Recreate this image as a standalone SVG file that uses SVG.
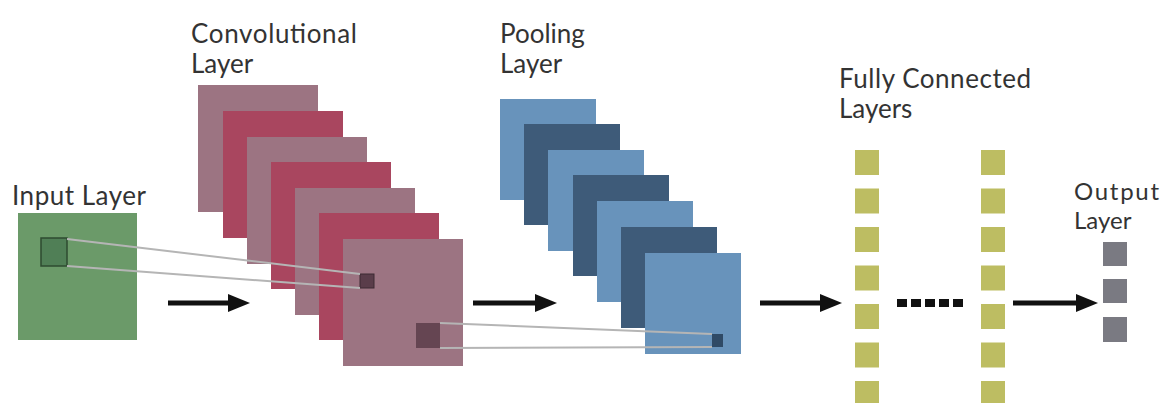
<svg xmlns="http://www.w3.org/2000/svg" width="1169" height="403" viewBox="0 0 1169 403">
<defs>
<marker id="ah" markerUnits="userSpaceOnUse" markerWidth="22" markerHeight="18" refX="0" refY="9" orient="auto" overflow="visible">
<path d="M0,0 L22,9 L0,18 z" fill="#111"/>
</marker>
</defs>
<style>
.lbl{font-family:"Gill Sans","Lato","Liberation Sans",sans-serif;font-size:26px;fill:#333333}
.sm{font-size:24px}
.mauve{fill:#9c7482}
.crim{fill:#a9465f}
.lb{fill:#6893bb}
.db{fill:#3e5b79}
.fc{fill:#bdbd62}
.out{fill:#7a7a82}
.arr{stroke:#111;stroke-width:5;fill:none;marker-end:url(#ah)}
.proj{stroke:#b5b5b5;stroke-width:2;fill:none}
</style>
<rect width="1169" height="403" fill="#ffffff"/>

<g id="input-layer">
<text class="lbl" x="12" y="205" textLength="134" lengthAdjust="spacing">Input Layer</text>
<rect x="18" y="213" width="119" height="127" fill="#6b9a69"/>
<rect x="41" y="238" width="26" height="28" fill="#507f56" stroke="#2e4b31" stroke-width="1.5"/>
</g>

<g id="conv-layer">
<text class="lbl" x="191" y="43" textLength="166" lengthAdjust="spacing">Convolutional</text>
<text class="lbl" x="191" y="73">Layer</text>
<rect class="mauve" x="198" y="85" width="120" height="127"/>
<rect class="crim" x="223" y="111" width="120" height="127"/>
<rect class="mauve" x="247" y="137" width="120" height="127"/>
<rect class="crim" x="271" y="162" width="120" height="127"/>
<rect class="mauve" x="295" y="188" width="120" height="127"/>
<rect class="crim" x="319" y="213" width="120" height="127"/>
<rect class="mauve" x="343" y="239" width="120" height="127"/>
<rect x="360" y="274" width="14" height="14" fill="#5a3d4a" stroke="#3d2a33" stroke-width="1"/>
<rect x="416" y="323" width="24" height="25" fill="#654552"/>
</g>

<g id="pooling-layer">
<text class="lbl" x="500" y="43">Pooling</text>
<text class="lbl" x="500" y="73">Layer</text>
<rect class="lb" x="500" y="99" width="96" height="101"/>
<rect class="db" x="524" y="124" width="96" height="101"/>
<rect class="lb" x="548" y="150" width="96" height="101"/>
<rect class="db" x="573" y="175" width="96" height="101"/>
<rect class="lb" x="597" y="201" width="96" height="101"/>
<rect class="db" x="621" y="227" width="96" height="101"/>
<rect class="lb" x="645" y="253" width="96" height="101"/>
<rect x="712" y="334" width="11" height="13" fill="#2f4a66"/>
</g>

<g id="fc-layers">
<text class="lbl" x="839" y="88" textLength="192" lengthAdjust="spacing">Fully Connected</text>
<text class="lbl" x="839" y="118">Layers</text>
<g id="fc-col-1">
<rect class="fc" x="855" y="150" width="24" height="25"/>
<rect class="fc" x="855" y="188.5" width="24" height="25"/>
<rect class="fc" x="855" y="227" width="24" height="25"/>
<rect class="fc" x="855" y="265.5" width="24" height="25"/>
<rect class="fc" x="855" y="304" width="24" height="25"/>
<rect class="fc" x="855" y="342.5" width="24" height="25"/>
<rect class="fc" x="855" y="381" width="24" height="25"/>
</g>
<g id="fc-col-2">
<rect class="fc" x="981" y="150" width="24" height="25"/>
<rect class="fc" x="981" y="188.5" width="24" height="25"/>
<rect class="fc" x="981" y="227" width="24" height="25"/>
<rect class="fc" x="981" y="265.5" width="24" height="25"/>
<rect class="fc" x="981" y="304" width="24" height="25"/>
<rect class="fc" x="981" y="342.5" width="24" height="25"/>
<rect class="fc" x="981" y="381" width="24" height="25"/>
</g>
</g>

<g id="output-layer">
<text class="lbl sm" x="1074" y="200" textLength="85" lengthAdjust="spacing">Output</text>
<text class="lbl sm" x="1074" y="229">Layer</text>
<rect class="out" x="1103" y="242" width="24" height="24"/>
<rect class="out" x="1103" y="279" width="24" height="24"/>
<rect class="out" x="1103" y="317" width="24" height="25"/>
</g>

<g id="connectors">
<line class="proj" x1="67" y1="239" x2="360" y2="274"/>
<line class="proj" x1="67" y1="266" x2="360" y2="288"/>
<line class="proj" x1="440" y1="323" x2="712" y2="334"/>
<line class="proj" x1="440" y1="348" x2="712" y2="347"/>
<line class="arr" x1="168" y1="303" x2="228" y2="303"/>
<line class="arr" x1="473" y1="303" x2="535" y2="303"/>
<line class="arr" x1="760" y1="303" x2="820" y2="303"/>
<line class="arr" x1="1013" y1="303" x2="1076" y2="303"/>
<g id="ellipsis" fill="#111">
<rect x="897" y="299" width="10" height="8"/>
<rect x="911" y="299" width="10" height="8"/>
<rect x="925" y="299" width="10" height="8"/>
<rect x="939" y="299" width="10" height="8"/>
<rect x="953" y="299" width="10" height="8"/>
</g>
</g>
</svg>
